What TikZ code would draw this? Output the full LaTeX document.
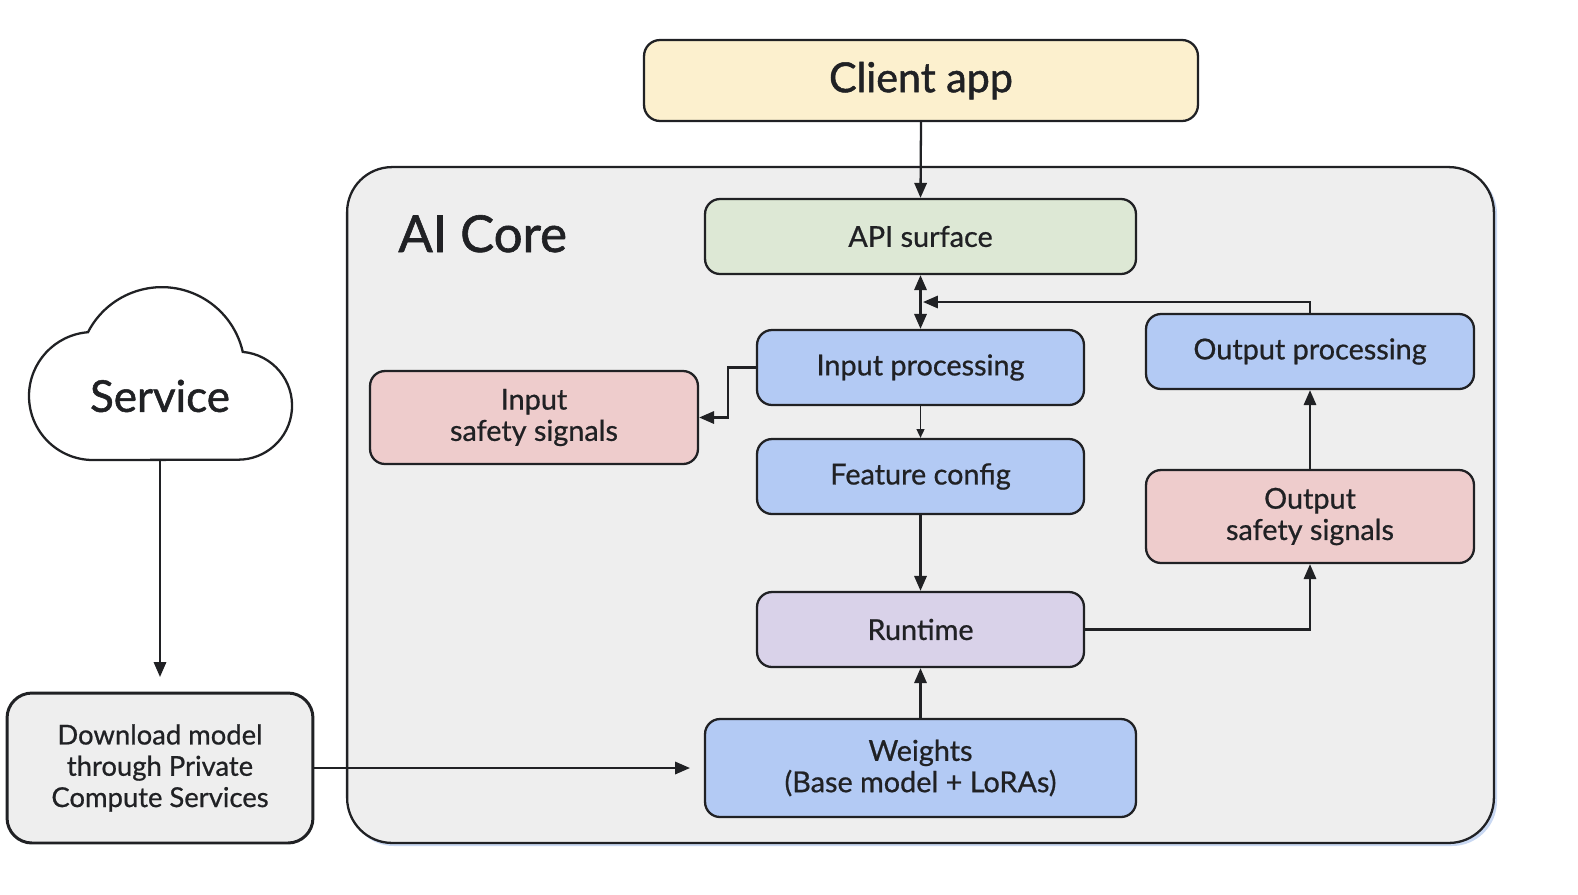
\documentclass[tikz,border=0pt]{standalone}
\usepackage{fontspec}
\setmainfont{Lato}[FakeBold=0.6]
\newfontfamily\medfont{Lato}[FakeBold=0.7]
\newfontfamily\semifont{Lato}[FakeBold=1.2]
\usetikzlibrary{arrows.meta,calc}
\definecolor{cline}{HTML}{202124}
\definecolor{cyel}{HTML}{FCF0CE}
\definecolor{cgreen}{HTML}{DDE8D5}
\definecolor{cblue}{HTML}{B3CAF4}
\definecolor{cpink}{HTML}{EECCCC}
\definecolor{clav}{HTML}{D9D2E9}
\definecolor{cgrey}{HTML}{EEEEEE}
\definecolor{cshadow}{HTML}{C9D8F2}
\begin{document}
\begin{tikzpicture}[x=0.02cm,y=0.02cm,
  box/.style={draw=cline,line width=1.3pt,rounded corners=0.3cm,align=center,inner sep=0pt,
    text=cline,font=\medfont\fontsize{16.4}{17.8}\selectfont},
  conn/.style={draw=cline,line width=1.3pt,-{Triangle[length=8.5pt,width=7pt]}},
  thinconn/.style={draw=cline,line width=0.8pt,-{Triangle[length=5pt,width=4.5pt]}},
]
\useasboundingbox (0,-894) rectangle (1578,0);

% AI Core container
\fill[cshadow,rounded corners=0.9cm] (349,-846) rectangle (1497,-169);
\node[draw=cline,fill=cgrey,line width=1.3pt,rounded corners=0.9cm,minimum width=22.94cm,minimum height=13.52cm,inner sep=0pt] (core) at (920.5,-505) {};
\node[anchor=base west,inner sep=0pt,text=cline,font=\semifont\fontsize{29}{32}\selectfont] (coretitle) at (398,-252) {AI Core};

% nodes
\node[box,fill=cyel,rounded corners=0.32cm,minimum width=11.08cm,minimum height=1.62cm,font=\semifont\fontsize{23.5}{28}\selectfont] (client) at (921,-80.5) {Client app};
\node[box,fill=cgreen,minimum width=8.62cm,minimum height=1.5cm] (api) at (920.5,-236.5) {API surface};
\node[box,fill=cblue,minimum width=6.54cm,minimum height=1.5cm] (inproc) at (920.5,-367.5) {Input processing};
\node[box,fill=cblue,minimum width=6.56cm,minimum height=1.5cm] (outproc) at (1310,-351.5) {Output processing};
\node[box,fill=cpink,minimum width=6.56cm,minimum height=1.86cm] (insafe) at (534,-417.5) {Input\\safety signals};
\node[box,fill=cblue,minimum width=6.54cm,minimum height=1.5cm] (feat) at (920.5,-476.5) {Feature config};
\node[box,fill=cpink,minimum width=6.56cm,minimum height=1.86cm] (outsafe) at (1310,-516.5) {Output\\safety signals};
\node[box,fill=clav,minimum width=6.54cm,minimum height=1.5cm] (runtime) at (920.5,-629.5) {Runtime};
\node[box,fill=cblue,minimum width=8.62cm,minimum height=1.96cm] (weights) at (920.5,-768) {Weights\\(Base model + LoRAs)};
\node[box,fill=cgrey,line width=1.7pt,rounded corners=0.5cm,minimum width=6.12cm,minimum height=3cm,font=\medfont\fontsize{15.6}{17.8}\selectfont] (download) at (160,-768) {Download model\\through Private\\Compute Services};

% cloud
\draw[cline,fill=white,line width=1.3pt] (93,-460) arc (270:94.5:64) arc (152.8:12.7:83) arc (85:-90:54) -- cycle;
\node[text=cline,inner sep=0pt,font=\semifont\fontsize{25}{28}\selectfont] (service) at (160,-396) {Service};
\coordinate (servicebottom) at (160,-460);

% connectors
\coordinate (fb) at (923,-302);
\coordinate (dlend) at (160,-677);
\coordinate (wend) at (690,-768);
\draw[conn] (client.south) -- (api.north);
\draw[conn,{Triangle[length=8.5pt,width=7pt]}-{Triangle[length=8.5pt,width=7pt]}] (api.south) -- (inproc.north);
\draw[conn] (outproc.north) |- (fb);
\draw[conn] (inproc.west) -- ++(-28,0) |- (insafe.east);
\draw[thinconn] (inproc.south) -- (feat.north);
\draw[conn] (feat.south) -- (runtime.north);
\draw[conn] (weights.north) -- (runtime.south);
\draw[conn] (runtime.east) -| (outsafe.south);
\draw[conn] (outsafe.north) -- (outproc.south);
\draw[conn] (servicebottom) -- (dlend);
\draw[conn] (download.east) -- (wend);
\end{tikzpicture}
\end{document}
